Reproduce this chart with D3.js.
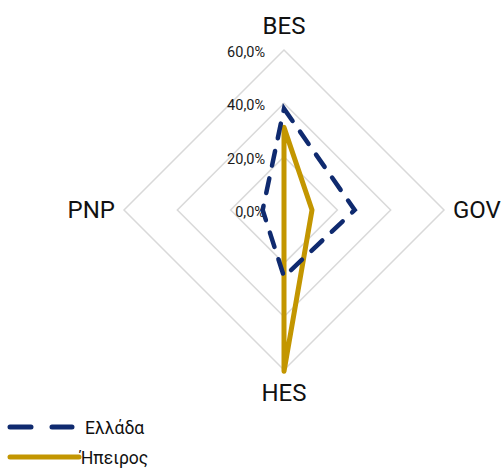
<!DOCTYPE html>
<html>
<head>
<meta charset="utf-8">
<script src="https://cdn.jsdelivr.net/npm/d3@7"></script>
<style>
  body { margin: 0; background: #fff; }
  svg { display: block; font-family: Roboto, 'Liberation Sans', sans-serif; }
</style>
</head>
<body>
<svg></svg>
<script>
'use strict'

const categories = ['BES', 'GOV', 'HES', 'PNP']
const greece = [0.38, 0.265, 0.25, 0.08]
const epirus = [0.31, 0.105, 0.605, 0.0]
const seriesNames = ['Ελλάδα', 'Ήπειρος']
const ticks = [0, 0.2, 0.4, 0.6]

const width = 504,
  height = 471
const cx = 284,
  cy = 210

const svg = d3.select('svg').attr('width', width).attr('height', height)

const r = d3.scaleLinear().domain([0, 0.6]).range([0, 160])
const angle = d3
  .scalePoint()
  .domain(categories)
  .range([0, 2 * Math.PI * 3 / 4])

const g = svg.append('g').attr('transform', 'translate(' + cx + ',' + cy + ')')

// grid rings
const ring = d3
  .lineRadial()
  .angle(d => angle(d))
  .curve(d3.curveLinearClosed)

ticks.filter(t => t > 0).forEach(t => {
  g.append('path')
    .attr('d', ring.radius(() => r(t))(categories))
    .attr('fill', 'none')
    .attr('stroke', '#d9d9d9')
    .attr('stroke-width', 1.5)
})

// tick labels
const fmt = d => d3.format('.1f')(d * 100).replace('.', ',') + '%'
g.selectAll('.tick')
  .data(ticks)
  .enter()
  .append('text')
  .attr('class', 'tick')
  .attr('x', -19)
  .attr('y', d => -r(d) + 7)
  .attr('text-anchor', 'end')
  .attr('font-size', 14.5)
  .attr('fill', '#1a1a1a')
  .text(fmt)

// category labels
const labelPos = {
  BES: { dx: 0, dy: -176, anchor: 'middle' },
  GOV: { dx: 169, dy: 8, anchor: 'start' },
  HES: { dx: 0, dy: 191, anchor: 'middle' },
  PNP: { dx: -169, dy: 8, anchor: 'end' }
}
categories.forEach(c => {
  g.append('text')
    .attr('x', labelPos[c].dx)
    .attr('y', labelPos[c].dy)
    .attr('text-anchor', labelPos[c].anchor)
    .attr('font-size', 24)
    .attr('fill', '#111')
    .text(c)
})

const line = d3
  .lineRadial()
  .angle((d, i) => angle(categories[i]))
  .radius(d => r(d))
  .curve(d3.curveLinearClosed)

g.append('path')
  .attr('d', line(epirus))
  .attr('fill', 'none')
  .attr('stroke', '#c39600')
  .attr('stroke-width', 5)
  .attr('stroke-linejoin', 'round')

g.append('path')
  .attr('d', line(greece))
  .attr('fill', 'none')
  .attr('stroke', '#0f2a6f')
  .attr('stroke-width', 4.5)
  .attr('stroke-linecap', 'round')
  .attr('stroke-dasharray', '15,13')

// legend
const legend = svg.append('g')
legend
  .append('line')
  .attr('x1', 10)
  .attr('x2', 72)
  .attr('y1', 427)
  .attr('y2', 427)
  .attr('stroke', '#0f2a6f')
  .attr('stroke-width', 5)
  .attr('stroke-linecap', 'round')
  .attr('stroke-dasharray', '21,21')
legend
  .append('text')
  .attr('x', 85)
  .attr('y', 434)
  .attr('font-size', 17.5)
  .attr('fill', '#111')
  .text(seriesNames[0])
legend
  .append('line')
  .attr('x1', 10)
  .attr('x2', 79)
  .attr('y1', 457)
  .attr('y2', 457)
  .attr('stroke', '#c39600')
  .attr('stroke-width', 5)
  .attr('stroke-linecap', 'round')
legend
  .append('text')
  .attr('x', 80)
  .attr('y', 464)
  .attr('font-size', 17.5)
  .attr('fill', '#111')
  .text(seriesNames[1])
</script>
</body>
</html>
